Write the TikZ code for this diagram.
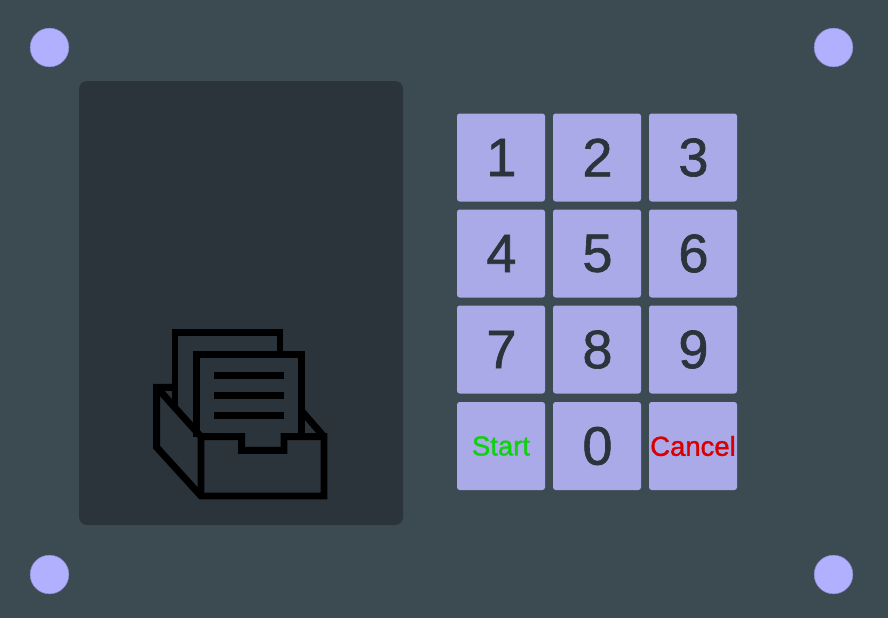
\documentclass[tikz,border=0pt]{standalone}
\usepackage{fontspec}
\setmainfont[FakeBold=1.2]{Liberation Sans}
\definecolor{casing}{HTML}{3C4A52}
\definecolor{screen}{HTML}{2B343B}
\definecolor{keyface}{HTML}{AAAAE8}
\definecolor{screw}{HTML}{B0B0FF}
\definecolor{screwrim}{HTML}{8C8CD0}
\definecolor{startgreen}{HTML}{10D010}
\definecolor{cancelred}{HTML}{D80000}
\tikzset{
    key/.style={fill=keyface,rounded corners=2pt,minimum size=66pt,inner sep=0pt,text=screen,font=\fontsize{40.5pt}{40.5pt}\selectfont},
    wordkey/.style={key,font=\fontsize{20.6pt}{20.6pt}\selectfont},
    screw/.style={circle,fill=screw,draw=screwrim,line width=0.4pt,minimum size=29pt,inner sep=0pt},
    icon/.style={draw=black,line width=5.2pt,line join=miter}
}
\begin{document}
\begin{tikzpicture}[x=0.75pt,y=-0.75pt]
    \useasboundingbox[fill=casing] (0,0) rectangle (888,618);
    \node[screw] (s1) at (49.5,47.5) {};
    \node[screw] (s2) at (833.5,47.5) {};
    \node[screw] (s3) at (49.5,574.5) {};
    \node[screw] (s4) at (833.5,574.5) {};
    \node[fill=screen,rounded corners=6pt,minimum width=243pt,minimum height=333pt,inner sep=0pt] (display) at (241,303) {};
    % digits
    \node[key] (k1) at (501,157.5) {\hspace{0.7pt}1};
    \node[key] (k2) at (597,157.5) {\hspace{0.7pt}2};
    \node[key] (k3) at (693,157.5) {\hspace{0.7pt}3};
    \node[key] (k4) at (501,253.5) {\hspace{0.7pt}4};
    \node[key] (k5) at (597,253.5) {\hspace{0.7pt}5};
    \node[key] (k6) at (693,253.5) {\hspace{0.7pt}6};
    \node[key] (k7) at (501,349.5) {\hspace{0.7pt}7};
    \node[key] (k8) at (597,349.5) {\hspace{0.7pt}8};
    \node[key] (k9) at (693,349.5) {\hspace{0.7pt}9};
    \node[key] (k0) at (597,446) {\hspace{0.7pt}0};
    \node[wordkey,text=startgreen] (kstart) at (501,446) {Start};
    \node[wordkey,text=cancelred] (kcancel) at (693,446) {Cancel};
    % tray icon
    \draw[icon] (175,407.5) -- (175,332.3) -- (280,332.3) -- (280,354.3);
    \draw[icon] (196.3,436.7) -- (196.3,354.3) -- (301.7,354.3) -- (301.7,436.7);
    \draw[icon] (175,387.3) -- (156.7,387.3) -- (156.7,447.3) -- (201,496) -- (324,496) -- (324,436.7) -- (284,436.7) -- (284,450.3) -- (241.7,450.3) -- (241.7,436.7) -- (201,436.7);
    \draw[icon] (156.7,387.3) -- (201,436.7) -- (201,496);
    \draw[icon] (301.7,411) -- (324,436.7);
    \foreach \liney in {375.3,395.3,415.7}
        \draw[icon] (214.3,\liney) -- (283.7,\liney);
\end{tikzpicture}
\end{document}
